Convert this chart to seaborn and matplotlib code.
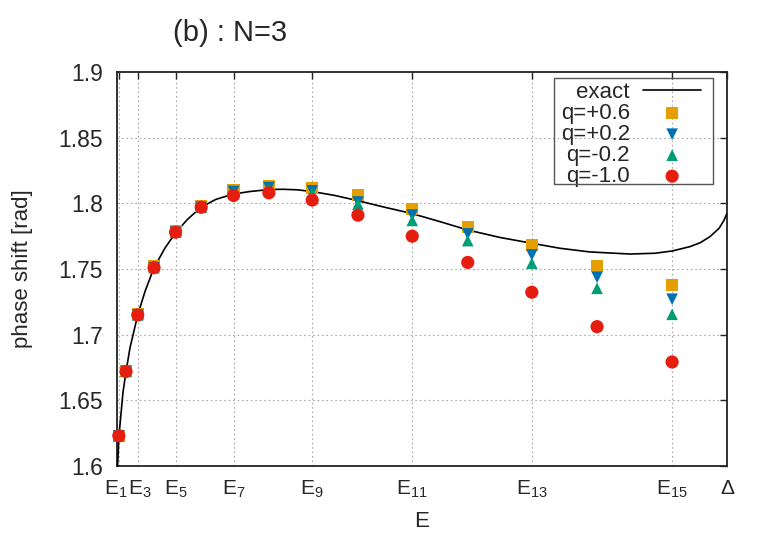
import numpy as np
import pandas as pd
import matplotlib
matplotlib.use('Agg')
import matplotlib.pyplot as plt
import matplotlib.transforms as mtransforms
from matplotlib.patches import Rectangle
import seaborn as sns

# energies E_n in units of Delta
e_levels = [0.003, 0.0148, 0.034, 0.0607, 0.096, 0.138, 0.191, 0.249,
            0.320, 0.395, 0.484, 0.575, 0.680, 0.787, 0.910]

q_p06 = [1.623, 1.672, 1.716, 1.752, 1.779, 1.798, 1.810, 1.8135,
         1.812, 1.806, 1.7955, 1.782, 1.768, 1.7525, 1.7375]
q_p02 = [1.623, 1.672, 1.715, 1.751, 1.778, 1.797, 1.809, 1.812,
         1.8095, 1.801, 1.791, 1.7767, 1.7607, 1.7437, 1.727]
q_m02 = [1.623, 1.672, 1.715, 1.751, 1.778, 1.797, 1.808, 1.811,
         1.808, 1.7995, 1.787, 1.7716, 1.7544, 1.7353, 1.7155]
q_m10 = [1.623, 1.672, 1.715, 1.751, 1.778, 1.797, 1.806, 1.808,
         1.8025, 1.791, 1.775, 1.755, 1.7323, 1.7061, 1.6792]

# exact curve, sampled by eye
exact_e = [0.001, 0.003, 0.0066, 0.0098, 0.0148, 0.0213, 0.034, 0.046,
           0.0607, 0.0787, 0.0967, 0.116, 0.1377, 0.162, 0.190, 0.218,
           0.249, 0.272, 0.295, 0.320, 0.357, 0.395, 0.439, 0.482, 0.530,
           0.575, 0.628, 0.680, 0.726, 0.775, 0.841, 0.882, 0.910, 0.939,
           0.956, 0.972, 0.987, 0.995, 1.0]
exact_d = [1.600, 1.622, 1.640, 1.656, 1.672, 1.690, 1.715, 1.733,
           1.751, 1.766, 1.778, 1.788, 1.797, 1.803, 1.807, 1.809,
           1.8105, 1.8107, 1.8103, 1.809, 1.806, 1.802, 1.797, 1.7924, 1.786,
           1.7797, 1.774, 1.7696, 1.7658, 1.763, 1.7614, 1.762, 1.7637, 1.767,
           1.770, 1.7746, 1.781, 1.787, 1.7924]

tick_pos = [0.003, 0.034, 0.096, 0.191, 0.320, 0.484, 0.680, 0.910, 1.0]
tick_lab = ['E$_1$', 'E$_3$', 'E$_5$', 'E$_7$', 'E$_9$', 'E$_{11}$',
            'E$_{13}$', 'E$_{15}$', 'Δ']

sns.set_style('white')
plt.rcParams['font.family'] = ['Liberation Sans', 'DejaVu Sans']
plt.rcParams['mathtext.fontset'] = 'custom'
plt.rcParams['mathtext.rm'] = 'Liberation Sans'
plt.rcParams['mathtext.it'] = 'Liberation Sans'
plt.rcParams['mathtext.default'] = 'regular'

fig = plt.figure(figsize=(7.65, 5.35), dpi=100)
ax = fig.add_axes([117 / 765, 69 / 535, 610 / 765, 394 / 535])

# grid
for x in tick_pos[:-1]:
    ax.axvline(x, color='#a8a8a8', lw=0.8, ls=(0, (1.5, 2.5)), zorder=0)
for y in [1.65, 1.7, 1.75, 1.8, 1.85]:
    ax.axhline(y, color='#a8a8a8', lw=0.8, ls=(0, (1.5, 2.5)), zorder=0)

sns.lineplot(x=exact_e, y=exact_d, ax=ax, color='black', lw=1.2,
             label='exact', zorder=3, sort=False)

series = [('q=+0.6', q_p06, 's', '#E69F00', 75),
          ('q=+0.2', q_p02, 'v', '#0072B2', 70),
          ('q=-0.2', q_m02, '^', '#009E73', 70),
          ('q=-1.0', q_m10, 'o', '#E51E10', 90)]
for i, (lab, vals, mk, col, sz) in enumerate(series):
    df = pd.DataFrame({'E': e_levels, 'd': vals})
    sns.scatterplot(data=df, x='E', y='d', ax=ax, marker=mk, color=col,
                    s=sz, edgecolor='none', label=lab, zorder=4 + i)
for coll in ax.collections:
    coll.set_clip_on(False)

ax.set_xlim(0, 1.0)
ax.set_ylim(1.6, 1.9)
ax.set_xticks(tick_pos)
ax.set_xticklabels(tick_lab)
ax.set_yticks([1.6, 1.65, 1.7, 1.75, 1.8, 1.85, 1.9])
ax.set_yticklabels(['1.6', '1.65', '1.7', '1.75', '1.8', '1.85', '1.9'])
ax.tick_params(direction='in', length=5, width=1, top=True, right=True,
               color='#222222')
ax.tick_params(axis='y', pad=10, labelsize=16.5)
ax.tick_params(axis='x', pad=9, labelsize=15)
for s in ax.spines.values():
    s.set_color('#222222')
    s.set_linewidth(1.3)

# E1 and E3 sit very close: nudge them apart a little
xlabels = ax.get_xticklabels()
xlabels[0].set_transform(xlabels[0].get_transform() +
                         mtransforms.ScaledTranslation(-3 / 100, 0, fig.dpi_scale_trans))
xlabels[1].set_transform(xlabels[1].get_transform() +
                         mtransforms.ScaledTranslation(2 / 100, 0, fig.dpi_scale_trans))

ax.set_xlabel('E', fontsize=16)
ax.xaxis.set_label_coords(0.5, -0.115)
ax.set_ylabel('phase shift [rad]', fontsize=16)
ax.yaxis.set_label_coords(-0.137, 0.5)
fig.text(230 / 765, 1 - 33 / 535, '(b) : N=3', fontsize=21,
         ha='center', va='center')

leg = ax.legend(loc='upper right', bbox_to_anchor=(701 / 765, 1 - 82 / 535),
                bbox_transform=fig.transFigure, markerfirst=False,
                fontsize=16, frameon=False,
                handlelength=2.6, handletextpad=0.6, labelspacing=0.0,
                borderpad=0, borderaxespad=0)
# gnuplot-style key box: tight vertically, padded sideways
fig.patches.append(Rectangle((554 / 765, 1 - 184 / 535), 159 / 765, 106 / 535,
                             transform=fig.transFigure, fill=False,
                             edgecolor='#555555', lw=1.0, zorder=10))

fig.savefig('out.png', dpi=100)
